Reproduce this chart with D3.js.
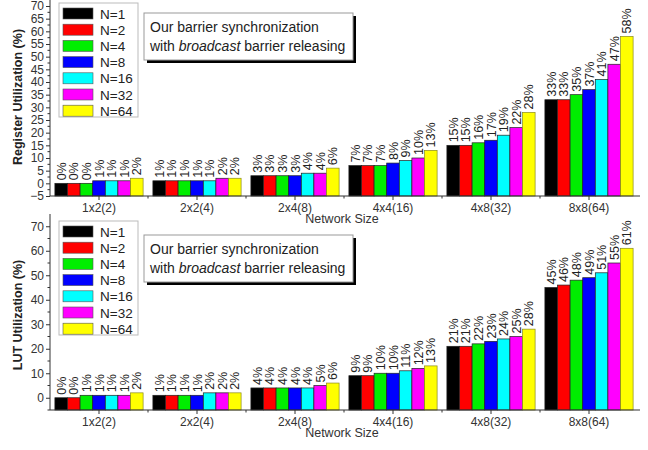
<!DOCTYPE html>
<html>
<head>
<meta charset="utf-8">
<script src="https://cdn.jsdelivr.net/npm/d3@7"></script>
<style>
  html, body { margin: 0; padding: 0; background: #fff; }
  svg { display: block; font-family: "Liberation Sans", Arial, sans-serif; }
</style>
</head>
<body>
<svg id="chart" width="648" height="450"></svg>
<script>
// Network sizes on the x axis and the barrier counts (series)
const networks = ["1x2(2)", "2x2(4)", "2x4(8)", "4x4(16)", "4x8(32)", "8x8(64)"];
const seriesNames = ["N=1", "N=2", "N=4", "N=8", "N=16", "N=32", "N=64"];
const seriesColors = ["#000000", "#ff0000", "#00ee00", "#0000ff", "#00ffff", "#ff00ff", "#ffff00"];

// Register utilization (%) per network, one value per series
const registerUtil = [
  [0, 0, 0, 1, 1, 1, 2],
  [1, 1, 1, 1, 1, 2, 2],
  [3, 3, 3, 3, 4, 4, 6],
  [7, 7, 7, 8, 9, 10, 13],
  [15, 15, 16, 17, 19, 22, 28],
  [33, 33, 35, 37, 41, 47, 58]
];

// LUT utilization (%) per network, one value per series
const lutUtil = [
  [0, 0, 1, 1, 1, 1, 2],
  [1, 1, 1, 1, 2, 2, 2],
  [4, 4, 4, 4, 4, 5, 6],
  [9, 9, 10, 10, 11, 12, 13],
  [21, 21, 22, 23, 24, 25, 28],
  [45, 46, 48, 49, 51, 55, 61]
];

// Y tick labels of each panel
const registerTicks = d3.range(-5, 71, 5);
const lutTicks = [0, 10, 20, 30, 40, 50, 60, 70];

const svg = d3.select("#chart");

function panel(cfg) {
  const g = svg.append("g");
  const x0 = d3.scaleBand().domain(networks).range([50, 638]).paddingInner(0.1).paddingOuter(0.05);
  const x1 = d3.scaleBand().domain(seriesNames).range([0, x0.bandwidth()]);
  const y = d3.scaleLinear().domain(cfg.yDomain).range([cfg.bottom, cfg.top]);

  // bars rise from the floor of the axis
  const groups = g.selectAll("g.grp").data(cfg.values).join("g")
    .attr("class", "grp")
    .attr("transform", (d, i) => `translate(${x0(networks[i])},0)`);

  groups.selectAll("rect").data(d => d).join("rect")
    .attr("x", (d, j) => x1(seriesNames[j]))
    .attr("width", x1.bandwidth())
    .attr("y", d => y(d))
    .attr("height", d => y(cfg.yDomain[0]) - y(d))
    .attr("fill", (d, j) => seriesColors[j])
    .attr("stroke", (d, j) => j === 6 ? "#8a8a20" : "#222")
    .attr("stroke-width", 0.7);

  // value labels, rotated, above each bar
  groups.selectAll("text").data(d => d).join("text")
    .attr("transform", (d, j) => `translate(${x1(seriesNames[j]) + x1.bandwidth() / 2 + 4.5},${y(d) - 3}) rotate(-90)`)
    .attr("font-size", 12.5)
    .attr("fill", "#222")
    .text(d => d + "%");

  // y axis
  const yAxis = d3.axisLeft(y).tickValues(cfg.ticks).tickSize(4).tickPadding(2).tickFormat(d3.format("d"));
  const ya = g.append("g").attr("transform", "translate(50,0)").call(yAxis);
  ya.select(".domain").attr("stroke", "#333").attr("d", `M0,${cfg.axisTop}V${cfg.bottom}`);
  ya.selectAll("text").attr("font-size", 12).attr("fill", "#333");
  ya.selectAll(".tick line").attr("stroke", "#333");
  // minor ticks
  g.append("g").selectAll("line").data(cfg.minor).join("line")
    .attr("x1", 50).attr("x2", 47.5)
    .attr("y1", d => y(d)).attr("y2", d => y(d))
    .attr("stroke", "#333");

  // x axis
  const xAxis = d3.axisBottom(x0).tickSize(4).tickPadding(3);
  const xa = g.append("g").attr("transform", `translate(0,${cfg.bottom})`).call(xAxis);
  xa.select(".domain").attr("stroke", "#333").attr("d", "M50,0H640");
  xa.selectAll("text").attr("font-size", 12).attr("fill", "#333");
  xa.selectAll(".tick line").attr("stroke", "#333");
  // boundary ticks between network groups
  const bounds = networks.slice(1).map(n => x0(n) - x0.step() * x0.paddingInner() / 2);
  g.append("g").selectAll("line").data(bounds).join("line")
    .attr("x1", d => d).attr("x2", d => d)
    .attr("y1", cfg.bottom).attr("y2", cfg.bottom + 2.5)
    .attr("stroke", "#333");

  g.append("text")
    .attr("x", 342).attr("y", cfg.bottom + 27)
    .attr("text-anchor", "middle").attr("font-size", 12.5).attr("fill", "#333")
    .text("Network Size");

  // y axis title
  g.append("text")
    .attr("transform", `translate(22,${cfg.titleY}) rotate(-90)`)
    .attr("text-anchor", "middle").attr("font-size", 12.5).attr("font-weight", "bold").attr("fill", "#222")
    .text(cfg.title);

  // legend
  const lg = g.append("g").attr("transform", `translate(59,${cfg.legendTop})`);
  lg.append("rect").attr("width", 79).attr("height", 114)
    .attr("fill", "#fff").attr("stroke", "#bbb").attr("stroke-width", 1);
  const rows = lg.selectAll("g").data(seriesNames).join("g")
    .attr("transform", (d, i) => `translate(4,${10 + i * 16.2})`);
  rows.append("rect").attr("y", -5).attr("width", 30).attr("height", 11)
    .attr("fill", (d, i) => seriesColors[i]).attr("stroke", "#555").attr("stroke-width", 0.6);
  rows.append("text").attr("x", 37).attr("y", 5.5).attr("font-size", 13.5).attr("fill", "#222").text(d => d);

  // note box with drop shadow
  const nb = g.append("g").attr("transform", `translate(144,${cfg.noteTop})`);
  nb.append("rect").attr("x", 3).attr("y", 3).attr("width", 209).attr("height", 47).attr("fill", "#000");
  nb.append("rect").attr("width", 209).attr("height", 47).attr("fill", "#fff").attr("stroke", "#999");
  nb.append("text").attr("x", 6).attr("y", 19).attr("font-size", 14).attr("fill", "#222")
    .text("Our barrier synchronization");
  const t2 = nb.append("text").attr("x", 6).attr("y", 38).attr("font-size", 14).attr("fill", "#222");
  t2.append("tspan").text("with ");
  t2.append("tspan").attr("font-style", "italic").text("broadcast");
  t2.append("tspan").text(" barrier releasing");
}

panel({
  values: registerUtil, yDomain: [-5, 70], top: 6, axisTop: 0, bottom: 196,
  ticks: registerTicks, minor: d3.range(-2.5, 70, 5),
  title: "Register Utilization (%)", titleY: 97,
  legendTop: 3, noteTop: 13
});

panel({
  values: lutUtil, yDomain: [-5, 75], top: 214, axisTop: 214, bottom: 410,
  ticks: lutTicks, minor: d3.range(-5, 75, 10),
  title: "LUT Utilization (%)", titleY: 315,
  legendTop: 221, noteTop: 235
});
</script>
</body>
</html>
